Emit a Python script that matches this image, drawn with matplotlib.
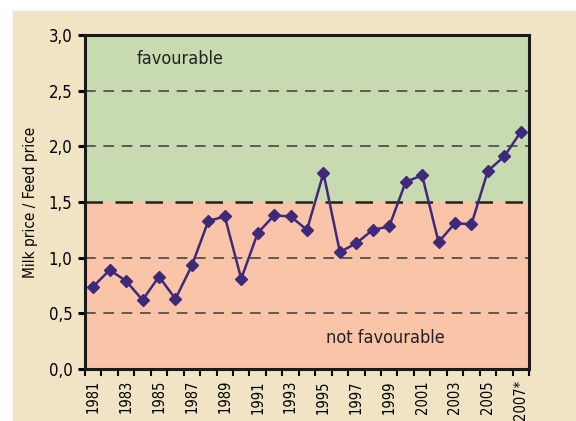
import numpy as np
import matplotlib
matplotlib.use("Agg")
import matplotlib.pyplot as plt
from matplotlib.patches import Rectangle
from matplotlib.ticker import FuncFormatter

plt.rcParams['font.family'] = ['DejaVu Sans']
plt.rcParams['font.stretch'] = 'condensed'

years = [str(y) for y in range(1981, 2007)] + ["2007*"]
ratio = [0.74, 0.89, 0.79, 0.62, 0.83, 0.63, 0.93, 1.33, 1.37, 0.81,
         1.22, 1.38, 1.37, 1.25, 1.76, 1.05, 1.13, 1.25, 1.28, 1.68,
         1.74, 1.14, 1.31, 1.30, 1.78, 1.91, 2.13]
threshold = 1.5

fig = plt.figure(figsize=(5.76, 4.21), dpi=100, facecolor="white")
# beige panel behind the chart
fig.patches.append(Rectangle((13 / 576, 0), 1, (421 - 11) / 421,
                             transform=fig.transFigure, color="#F0E4C4", zorder=-10))

ax = fig.add_axes([85 / 576, 52 / 421, 444 / 576, 334 / 421])
x = np.arange(len(years))
ax.set_xlim(-0.5, len(years) - 0.5)
ax.set_ylim(0, 3.0)

# favourable / not favourable zones
ax.axhspan(threshold, 3.0, color="#C8DBB0", zorder=0)
ax.axhspan(0, threshold, color="#F9C4A7", zorder=0)

for g in [0.5, 1.0, 2.0, 2.5]:
    ax.axhline(g, color="#3a3a3a", lw=1.1, ls=(0, (7, 5)), zorder=1)
ax.axhline(threshold, color="#222222", lw=1.8, ls=(0, (7, 5)), zorder=1)

ax.plot(x, ratio, color="#3F2A7A", lw=1.8, marker="D", ms=6.5, zorder=3)

ax.text(5.3, 2.78, "favourable", fontsize=13, color="#222222", ha="center", va="center")
ax.text(17.75, 0.28, "not favourable", fontsize=13, color="#222222", ha="center", va="center")

# axis style
for s in ax.spines.values():
    s.set_linewidth(2.2)
    s.set_color("#1a1a1a")
ax.set_yticks(np.arange(0, 3.01, 0.5))
ax.yaxis.set_major_formatter(FuncFormatter(lambda v, p: f"{v:.1f}".replace(".", ",")))
ax.tick_params(axis="y", direction="out", length=5, width=2.2, labelsize=12, pad=4)

ax.set_xticks(x[::2])
ax.set_xticklabels(years[::2], rotation=90, fontsize=10.5)
ax.set_xticks(np.arange(-0.5, len(years), 1), minor=True)
ax.tick_params(axis="x", which="major", length=0, pad=8)
ax.tick_params(axis="x", which="minor", direction="out", length=5, width=1.5)

ax.set_ylabel("Milk price / Feed price", fontsize=11, labelpad=8)

fig.savefig("out.png", dpi=100, facecolor=fig.get_facecolor())
